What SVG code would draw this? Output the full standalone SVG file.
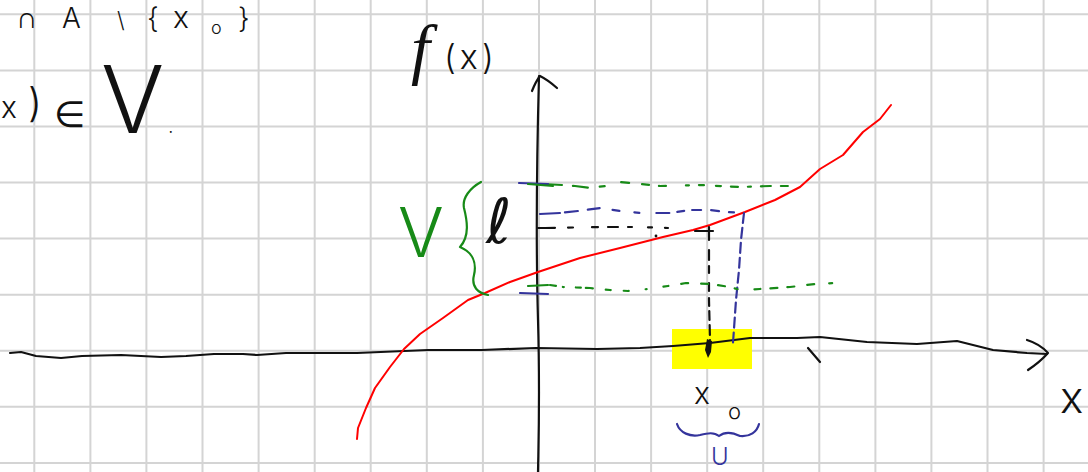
<svg xmlns="http://www.w3.org/2000/svg" width="1088" height="472" viewBox="0 0 1088 472">
<style>
.grid{stroke:#d4d4d4;stroke-width:2;fill:none}
.ink{stroke:#111;stroke-width:2.2;fill:none;stroke-linecap:round;stroke-linejoin:round}
.red{stroke:#ff0000;stroke-width:2;fill:none;stroke-linecap:round;stroke-linejoin:round}
.grn{stroke:#178a17;stroke-width:2.2;fill:none;stroke-linecap:round;stroke-linejoin:round}
.blu{stroke:#34349c;stroke-width:2.2;fill:none;stroke-linecap:round;stroke-linejoin:round}
.hw{font-family:Inter,"DejaVu Sans",sans-serif;font-weight:300;fill:#111}
.sym{font-family:"DejaVu Sans",sans-serif;fill:#111}
</style>
<rect width="1088" height="472" fill="#ffffff"/>
<g id="grid">
<path class="grid" d="M34.3,0V472M90.4,0V472M146.4,0V472M202.5,0V472M258.6,0V472M314.7,0V472M370.7,0V472M426.8,0V472M482.9,0V472M539,0V472M595,0V472M651.1,0V472M707.2,0V472M763.2,0V472M819.3,0V472M875.4,0V472M931.4,0V472M987.5,0V472M1043.6,0V472"/>
<path class="grid" d="M0,14.3H1088M0,70.4H1088M0,126.4H1088M0,182.5H1088M0,238.6H1088M0,294.7H1088M0,350.7H1088M0,406.8H1088M0,462.9H1088"/>
</g>
<g id="top-text">
<text class="hw" x="16" y="28" font-size="28"><tspan font-family="DejaVu Sans" font-size="30">∩</tspan><tspan x="62">A</tspan><tspan x="117" font-size="22">\</tspan><tspan x="147">{</tspan><tspan x="173" font-size="30">x</tspan><tspan x="211" dy="6" font-size="18">o</tspan><tspan x="238" dy="-6">}</tspan></text>
<text class="hw" x="1" y="118" font-size="30">x<tspan x="28" dy="-1" font-size="40">)</tspan></text>
<text class="sym" x="54" y="127" font-size="36">∈</text>
<text class="hw" x="101" y="133" font-size="94">V<tspan dx="4" font-size="18">.</tspan></text>
</g>
<g id="highlight">
<rect x="672" y="329" width="80" height="40" fill="#ffff00"/>
</g>
<g id="connectors">
<path class="ink" d="M539,76 C537,150 536,250 538,320 S539,420 538,472"/>
<path class="ink" d="M532,91 Q536,81 540,76 Q548,80 557,88"/>
<polyline class="ink" points="10,353 21,352 36,356 61,358 82,356 121,355 161,357 186,356 214,354 243,354 257,355 286,353 357,353 428,350 482,350 536,348 597,349 640,348 673,346 710,343 750,338 797,338 820,337 867,342 917,344 957,341 993,350 1027,353 1047,354"/>
<path class="ink" stroke-width="2.6" d="M1027,340 Q1040,344 1048,353 Q1040,362 1028,370"/>
<path class="ink" d="M808,348 L820,362"/>
<polyline class="red" points="357,439 358,428 366,408 375,388 390,367 404,349 420,334 443,318 468,300 485,293 510,282 538,272 580,258 620,248 663,237 693,230 710,225 745,212 775,200 800,187 820,169 843,155 863,132 880,119 891,105"/>
<polyline class="grn" stroke-dasharray="19 11 15 12 5 17 8 13 7 10 7 20 3 10 5 12 5 10 7 10 3 10 10 10 7 30" points="543,184 562,185 575,186 590,188 605,186 620,182 640,184 660,186 700,185 740,187 770,186 800,186"/>
<polyline class="blu" stroke-dasharray="20 5 13 10 12 13 7 15 5 17 13 8 7 8 9 10 8 10 5 20" points="540,214 560,213 578,211 600,208 620,211 640,213 670,213 690,210 710,210 725,212 744,213"/>
<polyline class="blu" stroke-dasharray="10 5" points="744,213 741,240 739,270 736,300 733,343"/>
<polyline class="ink" stroke-dasharray="10 13 5 19 6 10 10 10 4 16 4 13 3 20" points="545,228 600,227 640,227 668,228"/>
<circle cx="656" cy="236" r="1.4" fill="#111"/>
<path class="ink" d="M538,228 H548 M695,231 H713 M709,227 V240"/>
<polyline class="ink" stroke-dasharray="10 6 7 10 8 7 8 5 9 5 10 5" points="709,250 709,300 710,340"/>
<path d="M707,339 L712,341 L711,352 L708,358 L705,350 Z" fill="#111"/>
<polyline class="grn" stroke-dasharray="6 7 1 12 5 5 7 13 5 13 5 17 1 17 5 13 7 13 7 10 7 10 3 17 6 10 7 10 7 13 7 15 3 30" points="550,285 563,287 590,288 610,290 628,291 648,289 668,286 686,283 710,284 730,287 740,290 760,289 790,287 815,284 835,283"/>
<path class="blu" stroke-width="4" d="M519,183 L548,184 M520,293 L548,294"/>
<path class="grn" stroke-width="3.5" d="M528,184 L553,186 M528,286 L548,285"/>
</g>
<g id="label-fx">
<text x="411" y="72" font-size="68" font-style="italic" font-family="Liberation Serif,serif" fill="#111">f</text>
<text class="hw" x="444" y="69" font-size="34" letter-spacing="4">(x)</text>
</g>
<g id="label-V">
<text x="398" y="257" font-size="68" font-family="Inter,sans-serif" font-weight="300" fill="#178a17">V</text>
<path class="grn" d="M481,182 C470,188 462,198 464,208 C467,220 470,236 460,247 C472,252 477,262 474,275 C471,287 478,293 488,295"/>
</g>
<g id="label-l">
<text class="sym" x="486" y="243" font-size="62">ℓ</text>
</g>
<g id="label-x0">
<text class="hw" x="694" y="404" font-size="30">x</text>
<text class="hw" x="728" y="419" font-size="22">o</text>
<path class="blu" d="M677,424 C680,433 690,437 700,435 C708,433 714,432 719,436 C724,432 732,432 740,436 C750,437 757,432 759,424"/>
<text x="711" y="465" font-size="24" font-family="Inter,sans-serif" font-weight="300" fill="#34349c">U</text>
</g>
<g id="label-x">
<text class="hw" x="1060" y="413" font-size="44">x</text>
</g>
</svg>
